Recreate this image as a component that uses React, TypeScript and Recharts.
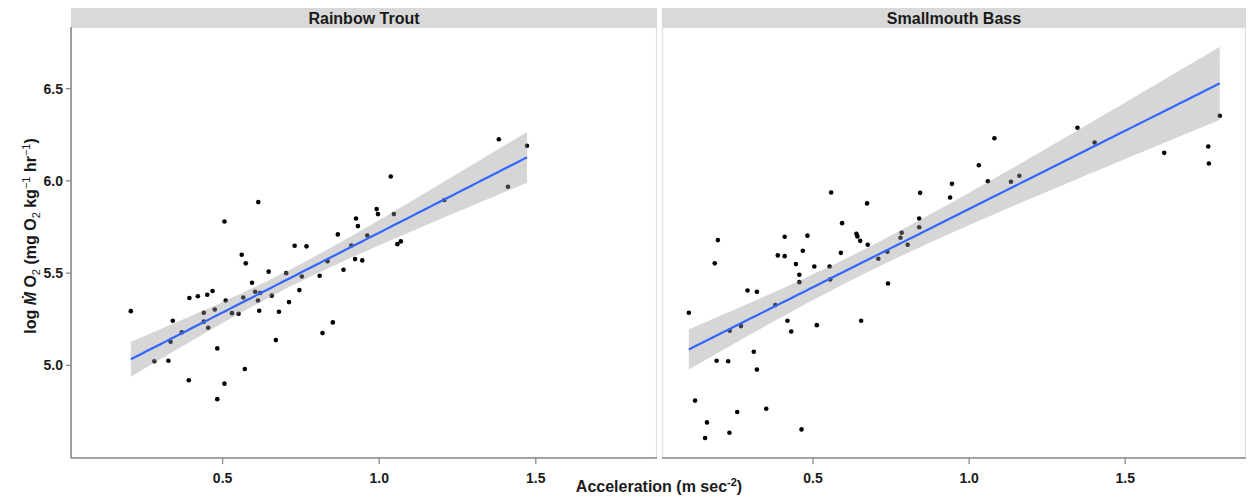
import React from 'react';
import { ComposedChart, Scatter, Line, Area, XAxis, YAxis } from 'recharts';

// Rainbow Trout: acceleration (m sec^-2) and log MO2
const troutAccel = [
  0.207, 0.282, 0.327, 0.334, 0.341, 0.370, 0.392, 0.394, 0.421, 0.440,
  0.440, 0.451, 0.454, 0.468, 0.475, 0.483, 0.483, 0.506, 0.506, 0.510,
  0.530, 0.551, 0.561, 0.566, 0.571, 0.574, 0.594, 0.604, 0.613, 0.614,
  0.617, 0.620, 0.647, 0.657, 0.670, 0.680, 0.703, 0.712, 0.730, 0.745,
  0.753, 0.768, 0.810, 0.819, 0.835, 0.852, 0.868, 0.886, 0.911, 0.923,
  0.926, 0.932, 0.946, 0.962, 0.992, 0.996, 1.037, 1.047, 1.058, 1.069,
  1.208, 1.382, 1.411, 1.472,
];
const troutMO2 = [
  5.294, 5.022, 5.025, 5.128, 5.242, 5.179, 4.919, 5.365, 5.375, 5.285,
  5.237, 5.383, 5.204, 5.403, 5.303, 5.092, 4.817, 5.780, 4.901, 5.352,
  5.283, 5.280, 5.600, 5.368, 4.980, 5.553, 5.448, 5.399, 5.352, 5.885,
  5.296, 5.392, 5.508, 5.378, 5.137, 5.291, 5.500, 5.343, 5.648, 5.408,
  5.482, 5.645, 5.486, 5.175, 5.565, 5.233, 5.710, 5.518, 5.650, 5.576,
  5.796, 5.755, 5.569, 5.704, 5.847, 5.820, 6.024, 5.820, 5.657, 5.672,
  5.896, 6.226, 5.968, 6.190,
];

// Smallmouth Bass
const bassAccel = [
  0.102, 0.122, 0.154, 0.160, 0.185, 0.191, 0.195, 0.228, 0.232, 0.233,
  0.257, 0.269, 0.290, 0.310, 0.320, 0.320, 0.350, 0.379, 0.387, 0.409,
  0.409, 0.418, 0.430, 0.445, 0.456, 0.456, 0.463, 0.467, 0.482, 0.504,
  0.512, 0.553, 0.555, 0.558, 0.589, 0.593, 0.639, 0.642, 0.651, 0.654,
  0.673, 0.675, 0.709, 0.738, 0.740, 0.780, 0.784, 0.803, 0.840, 0.840,
  0.843, 0.939, 0.945, 1.031, 1.060, 1.081, 1.134, 1.161, 1.347, 1.402,
  1.625, 1.766, 1.768, 1.803,
];
const bassMO2 = [
  5.285, 4.809, 4.606, 4.691, 5.553, 5.025, 5.679, 5.022, 4.635, 5.188,
  4.747, 5.213, 5.406, 5.074, 5.399, 4.977, 4.765, 5.327, 5.596, 5.697,
  5.592, 5.242, 5.184, 5.549, 5.491, 5.451, 4.653, 5.621, 5.703, 5.536,
  5.218, 5.536, 5.466, 5.937, 5.610, 5.771, 5.713, 5.699, 5.675, 5.242,
  5.878, 5.654, 5.578, 5.616, 5.444, 5.692, 5.719, 5.654, 5.749, 5.796,
  5.935, 5.910, 5.984, 6.085, 5.998, 6.231, 5.995, 6.028, 6.288, 6.208,
  6.152, 6.186, 6.094, 6.353,
];

const panelTitles = ['Rainbow Trout', 'Smallmouth Bass'];
const xTicks = [0.5, 1.0, 1.5];
const yTicks = [5.0, 5.5, 6.0, 6.5];
const xDomain: [number, number] = [0.016, 1.887];
const yDomain: [number, number] = [4.498, 6.834];

// linear model fit with 95% confidence band (as geom_smooth(method = "lm"))
function lmFit(xs: number[], ys: number[], tq: number) {
  const n = xs.length;
  const mx = xs.reduce((a, b) => a + b, 0) / n;
  const my = ys.reduce((a, b) => a + b, 0) / n;
  let sxx = 0, sxy = 0;
  for (let i = 0; i < n; i++) {
    sxx += (xs[i] - mx) ** 2;
    sxy += (xs[i] - mx) * (ys[i] - my);
  }
  const b = sxy / sxx;
  const a = my - b * mx;
  let sse = 0;
  for (let i = 0; i < n; i++) sse += (ys[i] - a - b * xs[i]) ** 2;
  const s = Math.sqrt(sse / (n - 2));
  const lo = Math.min(...xs), hi = Math.max(...xs);
  const out: { x: number; fit: number; band: [number, number] }[] = [];
  const steps = 80;
  for (let k = 0; k < steps; k++) {
    const x = lo + ((hi - lo) * k) / (steps - 1);
    const f = a + b * x;
    const se = s * Math.sqrt(1 / n + (x - mx) ** 2 / sxx);
    out.push({ x, fit: f, band: [f - tq * se, f + tq * se] });
  }
  return out;
}

const toPoints = (xs: number[], ys: number[]) => xs.map((x, i) => ({ x, y: ys[i] }));

const FONT = '"Liberation Sans", Arial, sans-serif';
const AXIS_GREY = '#8a8a8a';
const TEXT = '#1a1a1a';

function Dot(props: any) {
  const { cx, cy } = props;
  if (cx == null || cy == null) return null;
  return <circle cx={cx} cy={cy} r={2.3} fill="#000" />;
}

function Panel({ xs, ys, tq, showY, width }: { xs: number[]; ys: number[]; tq: number; showY: boolean; width: number }) {
  const fit = lmFit(xs, ys, tq);
  const pts = toPoints(xs, ys);
  return (
    <ComposedChart width={width} height={500} data={fit} margin={{ top: 27, right: 0, bottom: 0, left: 0 }}>
      <XAxis
        type="number"
        dataKey="x"
        domain={xDomain}
        allowDataOverflow
        ticks={xTicks}
        tickFormatter={(v: number) => v.toFixed(1)}
        height={42}
        axisLine={{ stroke: AXIS_GREY, strokeWidth: 1.6 }}
        tickLine={{ stroke: AXIS_GREY, strokeWidth: 1.3 }}
        tickSize={6}
        tickMargin={9}
        tick={{ fill: TEXT, fontSize: 14, fontWeight: 'bold', fontFamily: FONT }}
      />
      <YAxis
        type="number"
        dataKey="y"
        domain={yDomain}
        allowDataOverflow
        ticks={yTicks}
        tickFormatter={(v: number) => v.toFixed(1)}
        width={71}
        hide={!showY}
        axisLine={{ stroke: AXIS_GREY, strokeWidth: 1.6 }}
        tickLine={{ stroke: AXIS_GREY, strokeWidth: 1.3 }}
        tickSize={5}
        tickMargin={3}
        tick={{ fill: TEXT, fontSize: 14, fontWeight: 'bold', fontFamily: FONT }}
      />
      <Scatter data={pts} shape={<Dot />} isAnimationActive={false} zIndex={50} />
      <Area
        dataKey="band"
        type="linear"
        stroke="none"
        fill="#999999"
        fillOpacity={0.4}
        isAnimationActive={false}
        activeDot={false}
      />
      <Line dataKey="fit" type="linear" stroke="#3366FF" strokeWidth={2.2} dot={false} activeDot={false} isAnimationActive={false} />
    </ComposedChart>
  );
}

export default function App() {
  const leftX = 71, leftW = 657 - 71;
  const rightX = 662, rightW = 1246 - 662;
  return (
    <div style={{ position: 'absolute', left: 0, top: 0, width: 1249, height: 500, background: '#fff', fontFamily: FONT }}>
      <svg width={1249} height={500} style={{ position: 'absolute', left: 0, top: 0 }}>
        {/* strips */}
        <rect x={leftX} y={8} width={leftW} height={19} fill="#d9d9d9" />
        <rect x={rightX} y={8} width={rightW} height={19} fill="#d9d9d9" />
        <text x={leftX + leftW / 2} y={24} textAnchor="middle" fontSize={16} fontWeight="bold" fill={TEXT} fontFamily={FONT}>{panelTitles[0]}</text>
        <text x={rightX + rightW / 2} y={24} textAnchor="middle" fontSize={16} fontWeight="bold" fill={TEXT} fontFamily={FONT}>{panelTitles[1]}</text>
        {/* panel borders */}
        <rect x={leftX + 0.5} y={27.5} width={leftW - 1} height={430} fill="none" stroke="#e0e0e0" strokeWidth={1.2} />
        <rect x={rightX + 0.5} y={27.5} width={rightW - 1} height={430} fill="none" stroke="#e0e0e0" strokeWidth={1.2} />
        {/* axis titles */}
        <text x={659} y={492} textAnchor="middle" fontSize={16} fontWeight="bold" fill={TEXT} fontFamily={FONT}>
          Acceleration (m sec<tspan fontSize={11} dy={-6}>-2</tspan><tspan dy={6}>)</tspan>
        </text>
        <text transform="translate(36,236) rotate(-90)" textAnchor="middle" fontSize={16} fontWeight="bold" fill={TEXT} fontFamily={FONT}>
          log <tspan fontStyle="italic">Ṁ</tspan> O<tspan fontSize={11} fontWeight="normal" dy={4}>2</tspan>
          <tspan dy={-4}> (mg O</tspan><tspan fontSize={11} fontWeight="normal" dy={4}>2</tspan>
          <tspan dy={-4}> kg</tspan><tspan fontSize={11} fontWeight="normal" dy={-6}>−1</tspan>
          <tspan dy={6}> hr</tspan><tspan fontSize={11} fontWeight="normal" dy={-6}>−1</tspan>
          <tspan dy={6}>)</tspan>
        </text>
      </svg>
      <div style={{ position: 'absolute', left: 0, top: 0 }}>
        <Panel xs={troutAccel} ys={troutMO2} tq={1.999} showY={true} width={657} />
      </div>
      <div style={{ position: 'absolute', left: rightX, top: 0 }}>
        <Panel xs={bassAccel} ys={bassMO2} tq={1.999} showY={false} width={rightW} />
      </div>
    </div>
  );
}
